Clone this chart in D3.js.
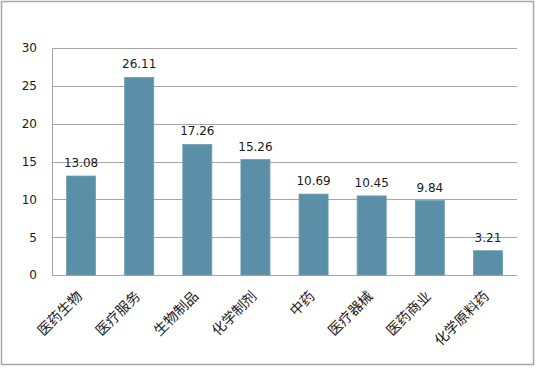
<!DOCTYPE html>
<html><head><meta charset="utf-8">
<script src="https://cdn.jsdelivr.net/npm/d3@7"></script>
<style>body{margin:0;background:#fff}</style>
</head><body>
<svg id="c" width="536" height="368"></svg>
<script>
const categories = ["医药生物","医疗服务","生物制品","化学制剂","中药","医疗器械","医药商业","化学原料药"];
const values = [13.08, 26.11, 17.26, 15.26, 10.69, 10.45, 9.84, 3.21];
const yTicks = [0, 5, 10, 15, 20, 25, 30];

const svg = d3.select("#c");
svg.append("rect").attr("x",1.5).attr("y",1.5).attr("width",532).attr("height",363)
  .attr("fill","#fff").attr("stroke","#a6a6a6").attr("stroke-width",1.5);

const m = {left:52, right:517, top:48, bottom:275};
const x = d3.scaleBand().domain(categories).range([m.left, m.right]).paddingInner(0.5).paddingOuter(0.25);
const y = d3.scaleLinear().domain([0,30]).range([m.bottom, m.top]);

// gridlines
svg.append("g").selectAll("line").data(yTicks).join("line")
  .attr("x1",m.left).attr("x2",m.right)
  .attr("y1",d=>Math.round(y(d))+0.5).attr("y2",d=>Math.round(y(d))+0.5)
  .attr("stroke","#a6a6a6").attr("stroke-width",1);
svg.append("line").attr("x1",m.left+0.5).attr("x2",m.left+0.5)
  .attr("y1",m.top).attr("y2",m.bottom).attr("stroke","#a6a6a6");

// y axis labels
const ya = svg.append("g").attr("transform",`translate(${m.left},0)`)
  .call(d3.axisLeft(y).tickValues(yTicks).tickSize(0).tickPadding(15));
ya.select(".domain").remove();
ya.selectAll("text").attr("font-family","DejaVu Sans, Verdana, sans-serif").attr("font-size","12px").attr("fill","#1a1a1a");

// bars
svg.append("g").selectAll("rect").data(values).join("rect")
  .attr("x",(d,i)=>x(categories[i])).attr("width",x.bandwidth())
  .attr("y",d=>y(d)).attr("height",d=>y(0)-y(d))
  .attr("fill","#5b8fa7").attr("stroke","#6e9db3").attr("stroke-width",0.8);

// value labels
svg.append("g").selectAll("text").data(values).join("text")
  .attr("x",(d,i)=>x(categories[i])+x.bandwidth()/2)
  .attr("y",d=>y(d)-9)
  .attr("text-anchor","middle")
  .attr("font-family","DejaVu Sans, Verdana, sans-serif").attr("font-size","12px").attr("fill","#1a1a1a")
  .text(d=>d.toFixed(2));

// x labels
const xa = svg.append("g").attr("transform",`translate(0,${m.bottom})`)
  .call(d3.axisBottom(x).tickSize(0).tickPadding(0));
xa.select(".domain").remove();
xa.selectAll("text")
  .attr("font-family","Noto Sans CJK SC, sans-serif").attr("font-size","14px").attr("fill","#1a1a1a")
  .attr("text-anchor","end").attr("dy","0")
  .attr("transform","translate(2,22) rotate(-45)");
</script>
</body></html>
